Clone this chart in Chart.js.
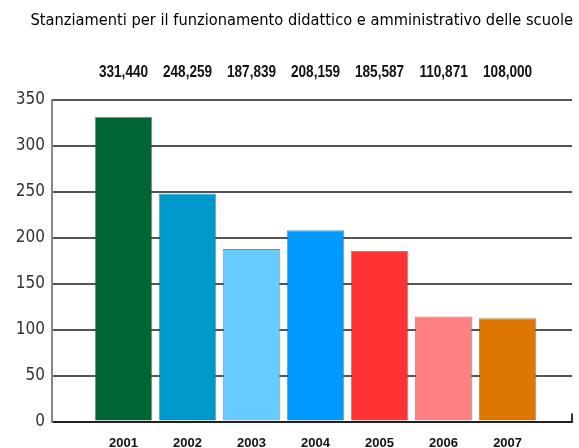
<!DOCTYPE html>
<html>
<head>
<meta charset="utf-8">
<script src="https://cdn.jsdelivr.net/npm/chart.js@4/dist/chart.umd.min.js"></script>
<style>
  html, body { margin: 0; padding: 0; background: #fff; }
  #wrap { width: 579px; height: 448px; }
</style>
</head>
<body>
<div id="wrap"><canvas id="myChart"></canvas></div>
<script>
const years = [2001, 2002, 2003, 2004, 2005, 2006, 2007];
const values = [331.4, 248.3, 187.8, 208.2, 185.6, 114.4, 112.3];
const valueLabels = ['331,440', '248,259', '187,839', '208,159', '185,587', '110,871', '108,000'];
const barColors = ['#006633', '#0099cc', '#66ccff', '#0099ff', '#ff3333', '#ff8080', '#dd7700'];
const yTicks = [0, 50, 100, 150, 200, 250, 300, 350];

// valori sopra il grafico + piccolo tratto a destra dell'asse
const topLabels = {
    id: 'topLabels',
    afterDatasetsDraw(chart) {
        const ctx = chart.ctx;
        const area = chart.chartArea;
        const meta = chart.getDatasetMeta(0);
        ctx.save();
        ctx.font = 'bold 17px "Liberation Sans", sans-serif';
        ctx.fillStyle = '#111';
        ctx.textAlign = 'center';
        ctx.textBaseline = 'middle';
        meta.data.forEach((bar, i) => {
            // carattere stretto come nell'originale
            ctx.save();
            ctx.translate(bar.x, area.top - 28);
            ctx.scale(0.8, 1);
            ctx.fillText(valueLabels[i], 0, 0);
            ctx.restore();
        });
        ctx.strokeStyle = '#333';
        ctx.lineWidth = 2;
        ctx.beginPath();
        ctx.moveTo(area.right, area.bottom);
        ctx.lineTo(area.right, area.bottom - 8);
        ctx.stroke();
        ctx.restore();
    }
};

const ctx = document.getElementById('myChart').getContext('2d');
new Chart(ctx, {
    type: 'bar',
    data: {
        datasets: [{
            data: years.map((y, i) => ({ x: y, y: values[i] })),
            backgroundColor: barColors,
            borderColor: 'rgba(60,60,60,0.6)',
            borderWidth: 1,
            barPercentage: 0.9,
            categoryPercentage: 1
        }]
    },
    options: {
        responsive: true,
        maintainAspectRatio: false,
        animation: false,
        layout: { padding: { left: 0, right: 6, top: 0, bottom: 0 } },
        plugins: {
            legend: { display: false },
            tooltip: { enabled: false },
            title: {
                display: true,
                align: 'end',
                text: 'Stanziamenti per il funzionamento didattico e amministrativo delle scuole',
                color: '#000',
                font: { family: '"DejaVu Sans Condensed", sans-serif', size: 16.3, weight: 'normal', lineHeight: 1.2 },
                padding: { top: 11, bottom: 69.4 }
            }
        },
        scales: {
            x: {
                type: 'linear',
                offset: false,
                min: 1999.883,
                max: 2008.006,
                grid: { display: false, offset: false },
                border: { display: true, color: '#222', width: 2 },
                ticks: {
                    stepSize: 1,
                    autoSkip: false,
                    maxRotation: 0,
                    padding: 7,
                    color: '#111',
                    font: { family: '"Liberation Sans", sans-serif', size: 13, weight: 'bold', lineHeight: 1 },
                    callback: value => years.includes(value) ? String(value) : ''
                },
                afterFit: scale => { scale.height = 26.5; }
            },
            y: {
                min: 0,
                max: 350,
                afterBuildTicks: scale => { scale.ticks = yTicks.map(v => ({ value: v })); },
                grid: { color: '#555', lineWidth: 2, drawTicks: false },
                border: { display: true, color: '#888', width: 2 },
                ticks: {
                    padding: 7,
                    color: '#333',
                    font: { family: '"DejaVu Sans Condensed", sans-serif', size: 17 }
                },
                afterFit: scale => { scale.width = 52; }
            }
        }
    },
    plugins: [topLabels]
});
</script>
</body>
</html>
